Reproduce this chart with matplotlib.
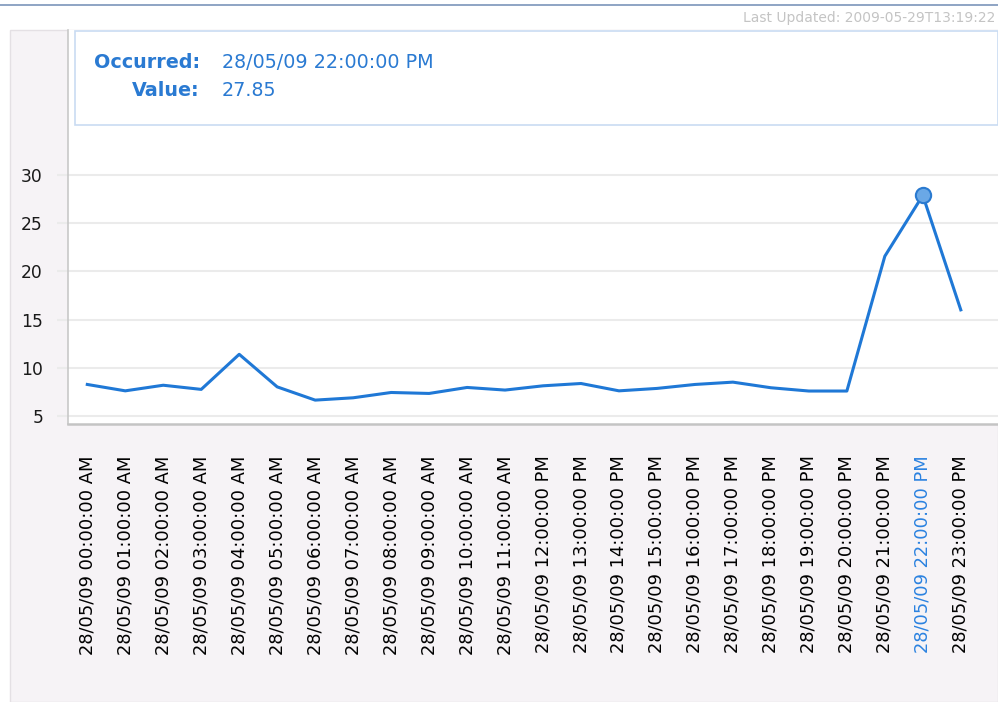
import matplotlib
matplotlib.use('Agg')
import matplotlib.pyplot as plt
from matplotlib.patches import Rectangle

# hourly readings for 28/05/09
hours = ['%02d' % h for h in range(24)]
labels = ['28/05/09 %s:00:00 %s' % (h, 'AM' if int(h) < 12 else 'PM') for h in hours]
values = [8.28, 7.62, 8.2, 7.77, 11.4, 8.03, 6.66, 6.9, 7.45, 7.35, 7.97, 7.7,
          8.14, 8.38, 7.62, 7.87, 8.28, 8.52, 7.94, 7.6, 7.6, 21.55, 27.85, 16.0]
yticks = [5, 10, 15, 20, 25, 30]
selected = 22

W, H = 998, 702
blue = '#1f78d6'
plt.rcParams['font.family'] = ['DejaVu Sans']

fig = plt.figure(figsize=(W / 100, H / 100), dpi=100)
fig.patch.set_facecolor('white')

def fx(px):
    return px / W

def fy(py):
    return 1 - py / H

# grey panel behind the chart
fig.patches.append(Rectangle((fx(10), 0), fx(988), fy(30), transform=fig.transFigure,
                             facecolor='#f6f3f6', edgecolor='#e4e0e4', lw=1, zorder=-1))
# top rule
fig.add_artist(plt.Line2D([0, 1], [fy(5), fy(5)], color='#8ea4c4', lw=1.4))
fig.text(fx(995), fy(18), 'Last Updated: 2009-05-29T13:19:22', ha='right', va='center',
         fontsize=10, color='#c4c4c4')

ax = fig.add_axes([fx(68), fy(423.5), 1 - fx(68), fy(30) - fy(423.5)])
ax.set_facecolor('white')
x = list(range(len(values)))
ax.plot(x, values, color=blue, lw=2.2, solid_joinstyle='round', zorder=3)
ax.plot(x[selected], values[selected], 'o', ms=11, mfc='#6aa8e6', mec='#2a7ad0', mew=1.5, zorder=4)

ax.set_xlim(-0.508, 23.98)
ax.set_ylim(4.24, 44.96)
ax.set_yticks(yticks)
ax.set_yticklabels([str(t) for t in yticks], fontsize=12.3, color='#1a1a1a')
ax.yaxis.grid(True, color='#ebebeb', lw=1.5)
ax.tick_params(axis='y', length=8, width=1.5, color='#ebebeb', pad=10)

ax.set_xticks(x)
ax.set_xticklabels(labels, rotation=90, fontsize=12.9, color='#000000', va='top', ha='center')
ax.get_xticklabels()[selected].set_color('#2b82e0')
ax.tick_params(axis='x', length=0, pad=23)

for s in ['top', 'right']:
    ax.spines[s].set_visible(False)
ax.spines['left'].set_color('#c8c8c8')
ax.spines['bottom'].set_color('#c4c4c4')
ax.spines['left'].set_linewidth(1.2)
ax.spines['bottom'].set_linewidth(1.8)

# tooltip box
fig.patches.append(Rectangle((fx(75), fy(125)), 1 - fx(75), fy(31) - fy(125),
                             transform=fig.transFigure, facecolor='white',
                             edgecolor='#c9dcf2', lw=1.2, zorder=5))
fig.text(fx(200), fy(62), 'Occurred:', ha='right', va='center', fontsize=13.8,
         fontweight='bold', color='#2a7ad2', zorder=6)
fig.text(fx(200), fy(91), 'Value:', ha='right', va='center', fontsize=13.8,
         fontweight='bold', color='#2a7ad2', zorder=6)
fig.text(fx(222), fy(62), labels[selected], ha='left', va='center', fontsize=13.8,
         color='#2a7ad2', zorder=6)
fig.text(fx(222), fy(91), '%.2f' % values[selected], ha='left', va='center', fontsize=13.8,
         color='#2a7ad2', zorder=6)

fig.savefig('out.png', dpi=100, facecolor=fig.get_facecolor())
